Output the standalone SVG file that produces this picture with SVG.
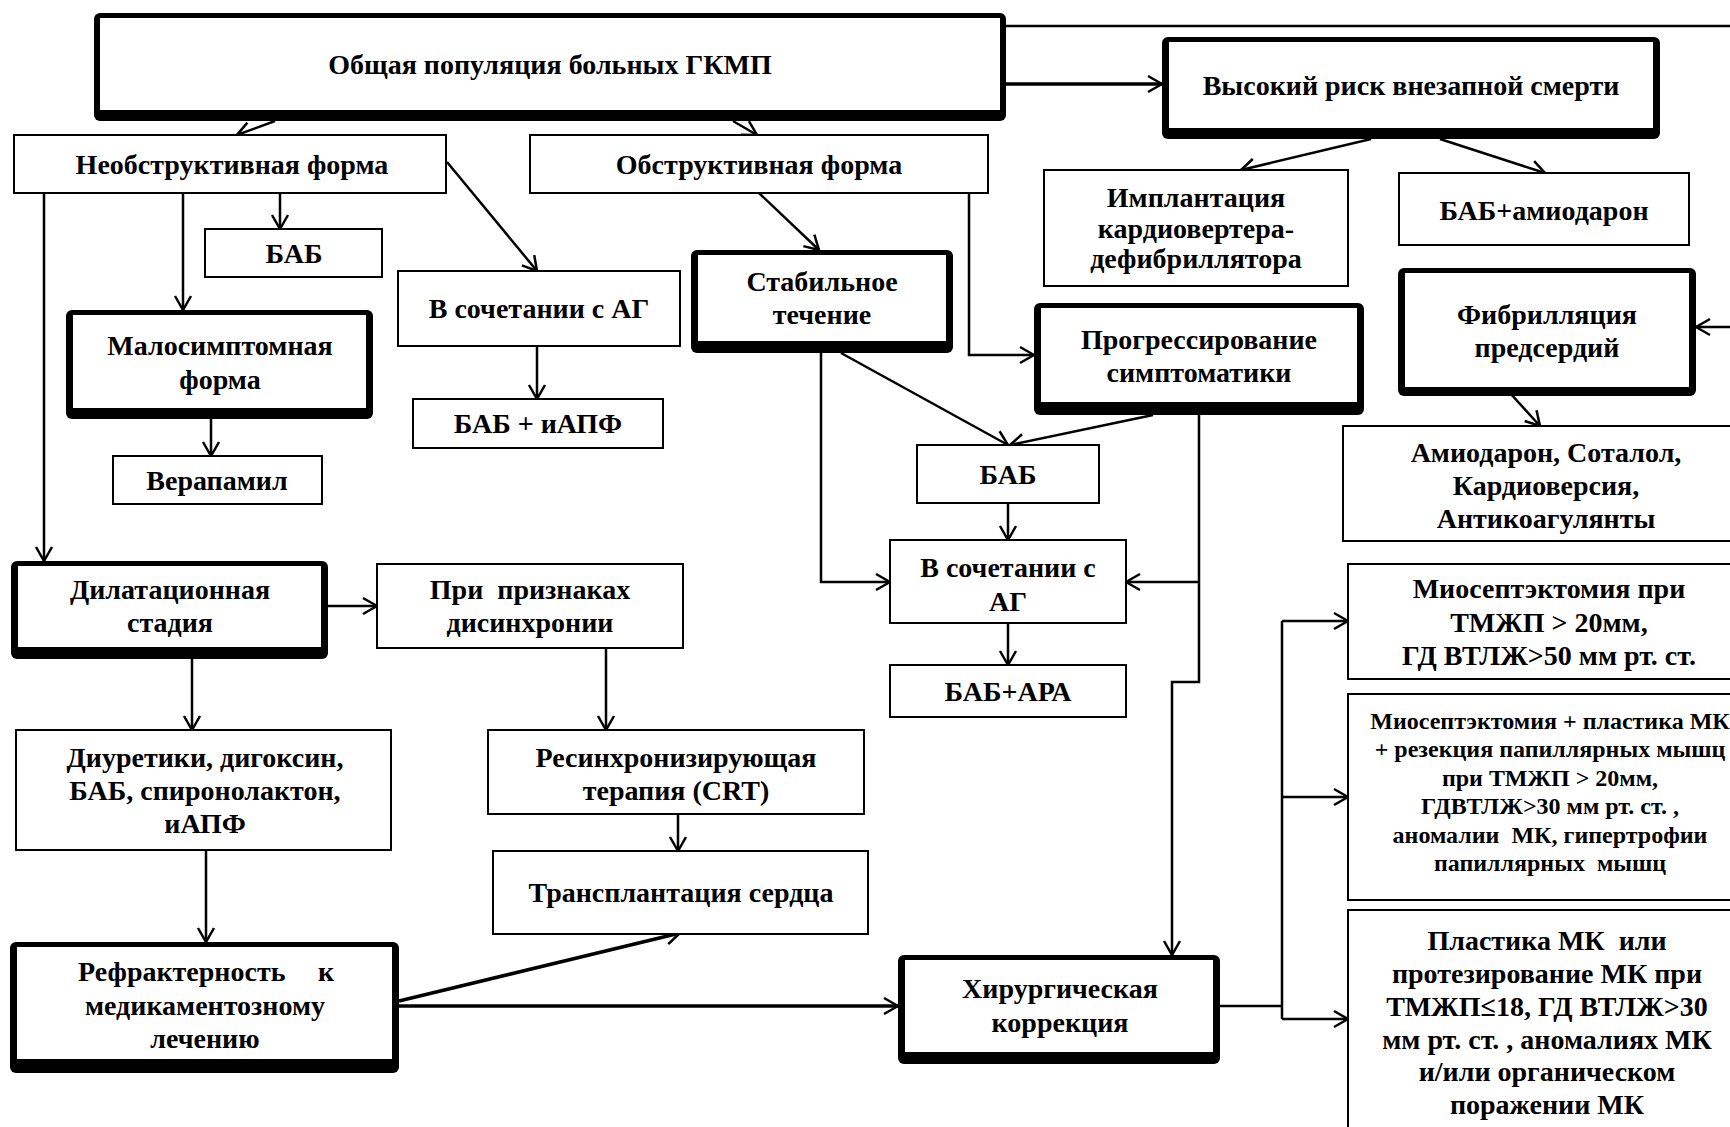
<svg xmlns="http://www.w3.org/2000/svg" width="1730" height="1127" viewBox="0 0 1730 1127">
<style>
text{font-family:"Liberation Serif","Times New Roman",serif;font-weight:bold;font-size:28px;fill:#000;text-anchor:middle}
.sm{font-size:24px}
.box{fill:#fff;stroke:#000;stroke-width:2}
.sh{fill:#000}
.in{fill:#fff}
.c{fill:none;stroke:#000;stroke-width:2.5}
.k{fill:none;stroke:#000;stroke-width:3.5}
</style>
<defs>
<marker id="a" markerUnits="userSpaceOnUse" markerWidth="18" markerHeight="20" viewBox="0 0 18 20" refX="16" refY="10" orient="auto">
<path d="M2,2 L16,10 L2,18" fill="none" stroke="#000" stroke-width="2.5"/>
</marker>
</defs>
<rect width="1730" height="1127" fill="#fff"/>

<g id="connectors">
<path class="c" d="M275,121 L237,135" marker-end="url(#a)"/>
<path class="c" d="M733,121 L757,135" marker-end="url(#a)"/>
<path class="k" d="M1006,84 L1162,84" marker-end="url(#a)"/>
<path class="c" d="M1006,26 L1730,26"/>
<path class="c" d="M280,193 L280,229" marker-end="url(#a)"/>
<path class="c" d="M183,193 L183,310" marker-end="url(#a)"/>
<path class="c" d="M44,193 L44,561" marker-end="url(#a)"/>
<path class="c" d="M447,162 L537,271" marker-end="url(#a)"/>
<path class="c" d="M537,346 L537,399" marker-end="url(#a)"/>
<path class="c" d="M211,419 L211,456" marker-end="url(#a)"/>
<path class="c" d="M759,193 L819,250" marker-end="url(#a)"/>
<path class="c" d="M969,193 L969,355 L1034,355" marker-end="url(#a)"/>
<path class="c" d="M1371,139 L1241,170" marker-end="url(#a)"/>
<path class="c" d="M1440,139 L1545,173" marker-end="url(#a)"/>
<path class="c" d="M1730,327 L1696,327" marker-end="url(#a)"/>
<path class="c" d="M1510,393 L1540,426" marker-end="url(#a)"/>
<path class="c" d="M841,353 L1008,445" marker-end="url(#a)"/>
<path class="c" d="M1153,415 L1010,445" marker-end="url(#a)"/>
<path class="c" d="M1008,503 L1008,540" marker-end="url(#a)"/>
<path class="c" d="M1008,623 L1008,665" marker-end="url(#a)"/>
<path class="c" d="M821,353 L821,582 L890,582" marker-end="url(#a)"/>
<path class="c" d="M1199,415 L1199,682 L1172,682 L1172,955" marker-end="url(#a)"/>
<path class="c" d="M1199,582 L1126,582" marker-end="url(#a)"/>
<path class="c" d="M1220,1006 L1282,1006"/>
<path class="c" d="M1282,621 L1282,1019"/>
<path class="c" d="M1282,621 L1348,621" marker-end="url(#a)"/>
<path class="c" d="M1282,797 L1348,797" marker-end="url(#a)"/>
<path class="c" d="M1282,1019 L1348,1019" marker-end="url(#a)"/>
<path class="c" d="M328,606 L377,606" marker-end="url(#a)"/>
<path class="c" d="M192,659 L192,730" marker-end="url(#a)"/>
<path class="c" d="M606,648 L606,730" marker-end="url(#a)"/>
<path class="c" d="M678,814 L678,851" marker-end="url(#a)"/>
<path class="c" d="M206,850 L206,942" marker-end="url(#a)"/>
<path class="k" d="M399,1001 L680,933" marker-end="url(#a)"/>
<path class="k" d="M399,1006 L898,1006" marker-end="url(#a)"/>
</g>

<g id="n-general">
<rect class="sh" x="94" y="13" width="912" height="108" rx="6"/>
<rect class="in" x="100" y="18" width="900" height="92"/>
<text x="550" y="74">Общая популяция больных ГКМП</text>
</g>
<g id="n-risk">
<rect class="sh" x="1162" y="37" width="498" height="102" rx="6"/>
<rect class="in" x="1169" y="42" width="484" height="86"/>
<text x="1411" y="95">Высокий риск внезапной смерти</text>
</g>
<g id="n-nonobstr">
<rect class="box" x="14" y="135" width="432" height="58"/>
<text x="232" y="174">Необструктивная форма</text>
</g>
<g id="n-obstr">
<rect class="box" x="530" y="135" width="458" height="58"/>
<text x="759" y="174">Обструктивная форма</text>
</g>
<g id="n-bab1">
<rect class="box" x="205" y="229" width="177" height="48"/>
<text x="294" y="263">БАБ</text>
</g>
<g id="n-ag1">
<rect class="box" x="398" y="271" width="282" height="75"/>
<text x="539" y="318">В сочетании с АГ</text>
</g>
<g id="n-babiapf">
<rect class="box" x="413" y="399" width="250" height="49"/>
<text x="538" y="433">БАБ + иАПФ</text>
</g>
<g id="n-malo">
<rect class="sh" x="66" y="310" width="307" height="109" rx="6"/>
<rect class="in" x="73" y="315" width="293" height="93"/>
<text x="220" y="355">Малосимптомная</text>
<text x="220" y="389">форма</text>
</g>
<g id="n-verapamil">
<rect class="box" x="113" y="456" width="209" height="48"/>
<text x="217" y="490">Верапамил</text>
</g>
<g id="n-stable">
<rect class="sh" x="691" y="250" width="262" height="103" rx="6"/>
<rect class="in" x="698" y="255" width="248" height="86"/>
<text x="822" y="291">Стабильное</text>
<text x="822" y="324">течение</text>
</g>
<g id="n-icd">
<rect class="box" x="1044" y="170" width="304" height="116"/>
<text x="1196" y="207">Имплантация</text>
<text x="1196" y="238">кардиовертера-</text>
<text x="1196" y="268">дефибриллятора</text>
</g>
<g id="n-babamio">
<rect class="box" x="1399" y="173" width="290" height="72"/>
<text x="1544" y="220">БАБ+амиодарон</text>
</g>
<g id="n-progress">
<rect class="sh" x="1034" y="303" width="330" height="112" rx="6"/>
<rect class="in" x="1041" y="308" width="316" height="94"/>
<text x="1199" y="349">Прогрессирование</text>
<text x="1199" y="382">симптоматики</text>
</g>
<g id="n-af">
<rect class="sh" x="1398" y="268" width="298" height="128" rx="6"/>
<rect class="in" x="1405" y="273" width="284" height="114"/>
<text x="1547" y="324">Фибрилляция</text>
<text x="1547" y="357">предсердий</text>
</g>
<g id="n-amio">
<rect class="box" x="1343" y="426" width="407" height="115"/>
<text x="1546" y="462">Амиодарон, Соталол,</text>
<text x="1546" y="495">Кардиоверсия,</text>
<text x="1546" y="528">Антикоагулянты</text>
</g>
<g id="n-bab2">
<rect class="box" x="917" y="445" width="182" height="58"/>
<text x="1008" y="484">БАБ</text>
</g>
<g id="n-ag2">
<rect class="box" x="890" y="540" width="236" height="83"/>
<text x="1008" y="577">В сочетании с</text>
<text x="1008" y="611">АГ</text>
</g>
<g id="n-babara">
<rect class="box" x="890" y="665" width="236" height="52"/>
<text x="1008" y="701">БАБ+АРА</text>
</g>
<g id="n-dilat">
<rect class="sh" x="11" y="561" width="317" height="98" rx="6"/>
<rect class="in" x="18" y="566" width="303" height="81"/>
<text x="170" y="599">Дилатационная</text>
<text x="170" y="632">стадия</text>
</g>
<g id="n-dyssync">
<rect class="box" x="377" y="564" width="306" height="84"/>
<text x="530" y="599" xml:space="preserve">При  признаках</text>
<text x="530" y="632">дисинхронии</text>
</g>
<g id="n-diuretics">
<rect class="box" x="16" y="730" width="375" height="120"/>
<text x="205" y="767">Диуретики, дигоксин,</text>
<text x="205" y="800">БАБ, спиронолактон,</text>
<text x="205" y="833">иАПФ</text>
</g>
<g id="n-crt">
<rect class="box" x="488" y="730" width="376" height="84"/>
<text x="676" y="767">Ресинхронизирующая</text>
<text x="676" y="800">терапия (CRT)</text>
</g>
<g id="n-transpl">
<rect class="box" x="493" y="851" width="375" height="83"/>
<text x="681" y="902">Трансплантация сердца</text>
</g>
<g id="n-refract">
<rect class="sh" x="10" y="942" width="389" height="131" rx="6"/>
<rect class="in" x="17" y="947" width="375" height="112"/>
<text x="205" y="981"><tspan x="78" style="text-anchor:start">Рефрактерность</tspan><tspan x="318" style="text-anchor:start">к</tspan></text>
<text x="205" y="1015">медикаментозному</text>
<text x="205" y="1048">лечению</text>
</g>
<g id="n-surgery">
<rect class="sh" x="898" y="955" width="322" height="109" rx="6"/>
<rect class="in" x="905" y="960" width="308" height="92"/>
<text x="1060" y="998">Хирургическая</text>
<text x="1060" y="1032">коррекция</text>
</g>
<g id="n-myo1">
<rect class="box" x="1348" y="564" width="402" height="115"/>
<text x="1549" y="598">Миосептэктомия при</text>
<text x="1549" y="632">ТМЖП &gt; 20мм,</text>
<text x="1549" y="665">ГД ВТЛЖ&gt;50 мм рт. ст.</text>
</g>
<g id="n-myo2">
<rect class="box" x="1348" y="694" width="402" height="206"/>
<text class="sm" x="1550" y="729">Миосептэктомия + пластика МК</text>
<text class="sm" x="1550" y="757">+ резекция папиллярных мышц</text>
<text class="sm" x="1550" y="786">при ТМЖП &gt; 20мм,</text>
<text class="sm" x="1550" y="814">ГДВТЛЖ&gt;30 мм рт. ст. ,</text>
<text class="sm" x="1550" y="843" xml:space="preserve">аномалии  МК, гипертрофии</text>
<text class="sm" x="1550" y="871" xml:space="preserve">папиллярных  мышц</text>
</g>
<g id="n-plasty">
<rect class="box" x="1348" y="910" width="402" height="240"/>
<text x="1547" y="950" xml:space="preserve">Пластика МК  или</text>
<text x="1547" y="983">протезирование МК при</text>
<text x="1547" y="1016">ТМЖП≤18, ГД ВТЛЖ&gt;30</text>
<text x="1547" y="1049">мм рт. ст. , аномалиях МК</text>
<text x="1547" y="1081">и/или органическом</text>
<text x="1547" y="1114">поражении МК</text>
</g>
</svg>
